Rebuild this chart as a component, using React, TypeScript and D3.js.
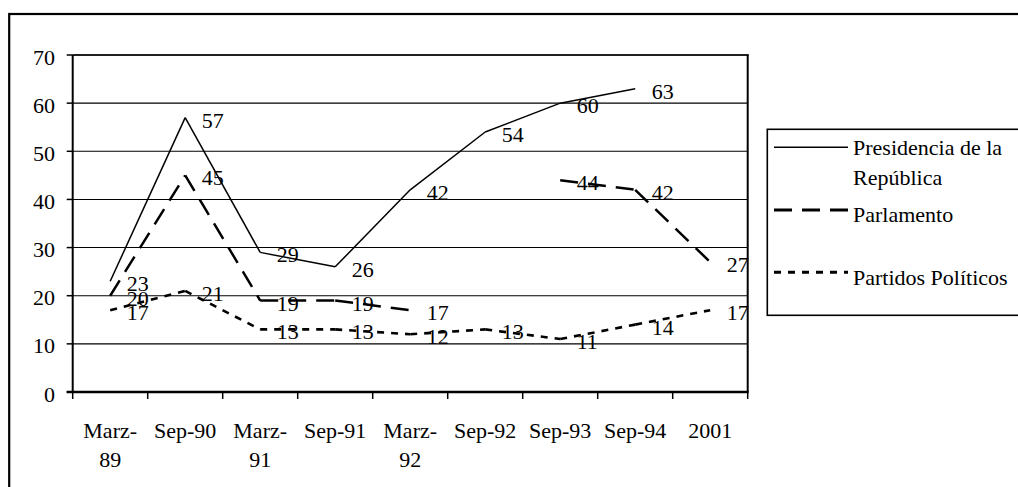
import React from "react";
import * as d3 from "d3";

const categories = ["Marz-89", "Sep-90", "Marz-91", "Sep-91", "Marz-92", "Sep-92", "Sep-93", "Sep-94", "2001"];
const presidencia: (number | null)[] = [23, 57, 29, 26, 42, 54, 60, 63, null];
const parlamento: (number | null)[] = [20, 45, 19, 19, 17, null, 44, 42, 27];
const partidos: (number | null)[] = [17, 21, 13, 13, 12, 13, 11, 14, 17];
const yTicks = [0, 10, 20, 30, 40, 50, 60, 70];
const seriesNames = ["Presidencia de la República", "Parlamento", "Partidos Políticos"];

const FONT = "'Liberation Serif', 'Times New Roman', serif";
const FS = 22;

const W = 1018;
const H = 487;
const plotLeft = 72.7;
const plotRight = 747.7;
const plotTop = 55;
const plotBottom = 392;

const styles = [
  { dash: null as string | null, width: 1.5 },
  { dash: "18 10", width: 2.5 },
  { dash: "7 7", width: 2.6 },
];

function wrapLabel(s: string): string[] {
  if (s.startsWith("Marz-")) return ["Marz-", s.slice(5)];
  return [s];
}

export default function App() {
  const x = d3.scaleBand<string>().domain(categories).range([plotLeft, plotRight]);
  const y = d3.scaleLinear().domain([0, 70]).range([plotBottom, plotTop]);
  const cx = (c: string) => (x(c) as number) + x.bandwidth() / 2;
  const line = d3
    .line<[number, number]>()
    .x((d) => d[0])
    .y((d) => d[1]);

  const allSeries = [presidencia, parlamento, partidos];

  const segments = (vals: (number | null)[]) => {
    const out: string[] = [];
    for (let i = 0; i < vals.length - 1; i++) {
      const a = vals[i];
      const b = vals[i + 1];
      if (a == null || b == null) continue;
      out.push(
        line([
          [cx(categories[i]), y(a)],
          [cx(categories[i + 1]), y(b)],
        ]) as string
      );
    }
    return out;
  };

  const boundaries = categories.map((c) => x(c) as number).concat([plotRight]);

  const legendX = 767.3;
  const legendY = 129.3;
  const legendItems = [
    { lineY: 147.3, textLines: ["Presidencia de la", "República"], baseline: 155 },
    { lineY: 210, textLines: ["Parlamento"], baseline: 222 },
    { lineY: 272.3, textLines: ["Partidos Políticos"], baseline: 285 },
  ];

  return (
    <svg
      width={W}
      height={H}
      style={{ position: "absolute", left: 0, top: 0, display: "block", background: "#fff" }}
      fontFamily={FONT}
      fontSize={FS}
    >
      <rect x={0} y={0} width={W} height={H} fill="#fff" />
      {/* outer frame */}
      <rect x={9.2} y={14} width={1100} height={600} fill="none" stroke="#000" strokeWidth={2.2} />

      {/* gridlines */}
      {yTicks.map((t) => (
        <line key={"g" + t} x1={plotLeft} x2={plotRight} y1={y(t)} y2={y(t)} stroke="#000" strokeWidth={1.1} />
      ))}
      {/* plot area border right / top */}
      <line x1={plotRight} x2={plotRight} y1={plotTop - 0.5} y2={plotBottom} stroke="#000" strokeWidth={2} />
      <line x1={plotLeft} x2={plotRight + 1} y1={plotTop} y2={plotTop} stroke="#000" strokeWidth={1.4} />

      {/* y axis */}
      <line x1={plotLeft} x2={plotLeft} y1={plotTop} y2={plotBottom} stroke="#000" strokeWidth={2} />
      {yTicks.map((t) => (
        <g key={"yt" + t}>
          <line x1={plotLeft - 6} x2={plotLeft} y1={y(t)} y2={y(t)} stroke="#000" strokeWidth={1.5} />
          <text x={55} y={y(t) + 9.5} textAnchor="end">
            {t}
          </text>
        </g>
      ))}

      {/* x axis */}
      <line x1={plotLeft - 6} x2={plotRight + 1} y1={plotBottom} y2={plotBottom} stroke="#000" strokeWidth={2.4} />
      {boundaries.map((b, i) => (
        <line key={"xt" + i} x1={b} x2={b} y1={plotBottom} y2={plotBottom + 7} stroke="#000" strokeWidth={1.5} />
      ))}
      {categories.map((c) => (
        <text key={"xl" + c} x={cx(c)} y={438} textAnchor="middle">
          {wrapLabel(c).map((l, j) => (
            <tspan key={j} x={cx(c)} dy={j === 0 ? 0 : 28.5}>
              {l}
            </tspan>
          ))}
        </text>
      ))}

      {/* series lines */}
      {allSeries.map((vals, si) => (
        <g key={"s" + si}>
          {segments(vals).map((d, k) => (
            <path
              key={k}
              d={d}
              fill="none"
              stroke="#000"
              strokeWidth={styles[si].width}
              strokeDasharray={styles[si].dash ?? undefined}
            />
          ))}
        </g>
      ))}

      {/* data labels */}
      {allSeries.map((vals, si) => (
        <g key={"dl" + si}>
          {vals.map((v, i) =>
            v == null ? null : (
              <text key={i} x={cx(categories[i]) + 16.5} y={y(v) + 10}>
                {v}
              </text>
            )
          )}
        </g>
      ))}

      {/* legend */}
      <rect x={legendX} y={legendY} width={400} height={186} fill="#fff" stroke="#000" strokeWidth={1.6} />
      {legendItems.map((it, i) => (
        <g key={"lg" + i}>
          <line
            x1={774}
            x2={848}
            y1={it.lineY}
            y2={it.lineY}
            stroke="#000"
            strokeWidth={i === 0 ? 1.5 : 3}
            strokeDasharray={styles[i].dash ?? undefined}
          />
          <text x={853} y={it.baseline}>
            {it.textLines.map((l, j) => (
              <tspan key={j} x={853} dy={j === 0 ? 0 : 30}>
                {l}
              </tspan>
            ))}
          </text>
        </g>
      ))}
      <title>{seriesNames.join(", ")}</title>
    </svg>
  );
}
